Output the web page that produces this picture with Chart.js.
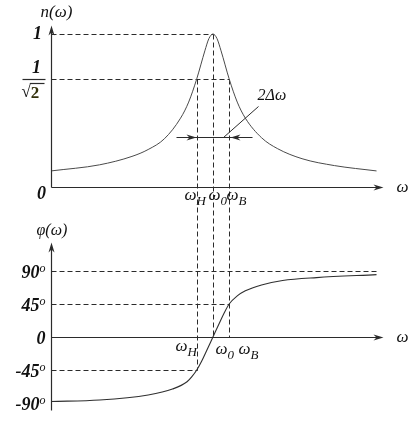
<!DOCTYPE html>
<html>
<head>
<meta charset="utf-8">
<script src="https://cdn.jsdelivr.net/npm/chart.js@4.4.0/dist/chart.umd.min.js"></script>
<style>
  html, body { margin: 0; padding: 0; background: #fff; }
  canvas { display: block; }
</style>
</head>
<body>
<canvas id="resChart" width="416" height="436"></canvas>
<script>
// ω in units of ω0
const omegaN = [0, 0.3, 0.5, 0.6, 0.7, 0.8, 0.85, 0.9, 0.95, 0.975, 1.0, 1.025, 1.05, 1.1, 1.15, 1.2, 1.3, 1.4, 1.55, 1.75, 2.01];
const nValues = [0.105, 0.145, 0.2, 0.245, 0.315, 0.45, 0.555, 0.707, 0.89, 0.97, 1.0, 0.97, 0.89, 0.707, 0.555, 0.45, 0.322, 0.25, 0.185, 0.14, 0.105];

const omegaPhi = [0, 0.3, 0.6, 0.75, 0.84, 0.87, 0.9, 0.93, 0.96, 1.0, 1.04, 1.07, 1.1, 1.15, 1.2, 1.3, 1.43, 1.64, 2.01];
const phiValues = [-88, -86, -79, -71, -61, -54, -45, -33, -19, 0, 19, 33, 45, 56, 63, 71, 77, 81, 85];

// marked frequencies ωH, ω0, ωB
const markFreqs = [0.9, 1.0, 1.1];
const markSubs = ["H", "0", "B"];
const nLevels = [1, 0.707];
const phiTicks = [90, 45, 0, -45, -90];
const phiTickLabels = ["90", "45", "0", "-45", "-90"];

const OMEGA_MAX = 2.05;
const FONT = '"Liberation Serif", "DejaVu Serif", serif';
const INK = "#2b2b2b";

function toPoints(xs, ys) {
    return xs.map((x, i) => ({ x: x, y: ys[i] }));
}

function arrowHead(ctx, x, y, dir) {
    ctx.beginPath();
    if (dir === "right") {
        ctx.moveTo(x, y);
        ctx.lineTo(x - 10, y - 3);
        ctx.lineTo(x - 7, y);
        ctx.lineTo(x - 10, y + 3);
    } else if (dir === "left") {
        ctx.moveTo(x, y);
        ctx.lineTo(x + 10, y - 3);
        ctx.lineTo(x + 7, y);
        ctx.lineTo(x + 10, y + 3);
    } else {
        ctx.moveTo(x, y);
        ctx.lineTo(x - 3, y + 10);
        ctx.lineTo(x, y + 7);
        ctx.lineTo(x + 3, y + 10);
    }
    ctx.closePath();
    ctx.fill();
}

function line(ctx, x1, y1, x2, y2) {
    ctx.beginPath();
    ctx.moveTo(x1, y1);
    ctx.lineTo(x2, y2);
    ctx.stroke();
}

function omegaLabel(ctx, x, y, sub, size) {
    ctx.textAlign = "left";
    ctx.textBaseline = "alphabetic";
    ctx.font = "italic " + size + "px " + FONT;
    ctx.fillText("ω", x, y);
    const w = ctx.measureText("ω").width;
    ctx.font = "italic " + Math.round(size * 0.75) + "px " + FONT;
    ctx.fillText(sub, x + w, y + 5);
}

const guidePlugin = {
    id: "guides",
    beforeDatasetsDraw(chart) {
        const ctx = chart.ctx;
        const s = chart.scales;
        const X = v => Math.round(s.x.getPixelForValue(v)) + 0.5;
        const YN = v => Math.round(s.yN.getPixelForValue(v)) + 0.5;
        const YP = v => Math.round(s.yP.getPixelForValue(v)) + 0.5;

        ctx.save();
        ctx.strokeStyle = INK;
        ctx.lineWidth = 1;
        ctx.setLineDash([5, 3]);

        // horizontal guides, top
        line(ctx, X(0), YN(nLevels[0]), X(markFreqs[1]), YN(nLevels[0]));
        line(ctx, X(0), YN(nLevels[1]), X(markFreqs[2]), YN(nLevels[1]));

        // horizontal guides, bottom
        line(ctx, X(0), YP(phiTicks[0]), X(omegaPhi[omegaPhi.length - 1]), YP(phiTicks[0]));
        line(ctx, X(0), YP(phiTicks[1]), X(markFreqs[2]), YP(phiTicks[1]));
        line(ctx, X(0), YP(phiTicks[3]), X(markFreqs[0]), YP(phiTicks[3]));

        // vertical guides through both plots
        line(ctx, X(markFreqs[0]), YN(nLevels[1]), X(markFreqs[0]), YP(phiTicks[3]));
        line(ctx, X(markFreqs[1]), YN(nLevels[0]), X(markFreqs[1]), YP(0));
        line(ctx, X(markFreqs[2]), YN(nLevels[1]), X(markFreqs[2]), YP(0));
        ctx.restore();
    },
    afterDatasetsDraw(chart) {
        const ctx = chart.ctx;
        const s = chart.scales;
        const X = v => Math.round(s.x.getPixelForValue(v)) + 0.5;
        const YN = v => Math.round(s.yN.getPixelForValue(v)) + 0.5;
        const YP = v => Math.round(s.yP.getPixelForValue(v)) + 0.5;
        const x0 = X(0);
        const xEnd = X(OMEGA_MAX);

        ctx.save();
        ctx.strokeStyle = INK;
        ctx.fillStyle = INK;
        ctx.lineWidth = 1.2;

        // top axes
        line(ctx, x0, YN(0), xEnd - 6, YN(0));
        arrowHead(ctx, xEnd, YN(0), "right");
        line(ctx, x0, YN(0), x0, YN(1.06) + 6);
        arrowHead(ctx, x0, YN(1.06), "up");

        // bottom axes
        line(ctx, x0, YP(0), xEnd - 6, YP(0));
        arrowHead(ctx, xEnd, YP(0), "right");
        line(ctx, x0, YP(-100), x0, YP(130) + 6);
        arrowHead(ctx, x0, YP(130), "up");

        // 2Δω width marker
        const yw = YN(0.327);
        ctx.lineWidth = 1;
        line(ctx, X(0.77), yw, X(1.24), yw);
        arrowHead(ctx, X(markFreqs[0]) - 1, yw, "right");
        arrowHead(ctx, X(markFreqs[2]) + 1, yw, "left");
        line(ctx, X(1.06), yw, X(1.28), YN(0.53));

        // texts
        ctx.fillStyle = "#111";
        ctx.textBaseline = "middle";

        ctx.font = "italic 17px " + FONT;
        ctx.textAlign = "left";
        ctx.fillText("n(ω)", x0 - 11, 13);

        ctx.font = "italic bold 18px " + FONT;
        ctx.textAlign = "center";
        ctx.fillText("1", x0 - 14, YN(1));
        ctx.fillText("1", x0 - 15, YN(nLevels[1]) - 11);
        ctx.lineWidth = 1.2;
        line(ctx, x0 - 29, YN(nLevels[1]), x0 - 6, YN(nLevels[1]));
        ctx.font = "bold 17px " + FONT;
        ctx.textAlign = "left";
        ctx.fillText("√", x0 - 30, YN(nLevels[1]) + 13);
        const rw = ctx.measureText("√").width;
        line(ctx, x0 - 30 + rw - 1, YN(nLevels[1]) + 4, x0 - 7, YN(nLevels[1]) + 4);
        ctx.fillStyle = "#33310c";
        ctx.fillText("2", x0 - 30 + rw, YN(nLevels[1]) + 14);
        ctx.fillStyle = "#111";
        ctx.font = "italic bold 18px " + FONT;
        ctx.textAlign = "center";
        ctx.fillText("0", x0 - 10, YN(0) + 7);

        ctx.font = "italic 17px " + FONT;
        ctx.textAlign = "left";
        ctx.fillText("ω", xEnd + 13, YN(0));
        ctx.fillText("ω", xEnd + 13, YP(0));

        ctx.font = "italic 16px " + FONT;
        ctx.fillText("2Δω", X(1.27), YN(0.6));

        // marks under the top axis
        omegaLabel(ctx, X(markFreqs[0]) - 13, YN(0) + 12, markSubs[0], 17);
        omegaLabel(ctx, X(markFreqs[1]) - 5, YN(0) + 12, markSubs[1], 17);
        omegaLabel(ctx, X(markFreqs[2]) - 3, YN(0) + 12, markSubs[2], 17);

        // marks under the bottom axis
        omegaLabel(ctx, X(markFreqs[0]) - 22, YP(0) + 13, markSubs[0], 17);
        omegaLabel(ctx, X(markFreqs[1]) + 2, YP(0) + 16, markSubs[1], 17);
        omegaLabel(ctx, X(markFreqs[2]) + 9, YP(0) + 16, markSubs[2], 17);

        // phase axis
        ctx.textBaseline = "middle";
        ctx.font = "italic 16px " + FONT;
        ctx.textAlign = "left";
        ctx.fillText("φ(ω)", x0 - 15, YP(130) - 12);

        phiTicks.forEach((t, i) => {
            const y = YP(t);
            ctx.font = "italic bold 18px " + FONT;
            ctx.textAlign = "right";
            if (t === 0) {
                ctx.fillText(phiTickLabels[i], x0 - 6, y + 2);
                return;
            }
            ctx.fillText(phiTickLabels[i], x0 - 12, y + 2);
            ctx.font = "italic 12px " + FONT;
            ctx.textAlign = "left";
            ctx.fillText("o", x0 - 12, y - 3);
        });

        ctx.restore();
    }
};

new Chart(document.getElementById("resChart"), {
    type: "line",
    data: {
        datasets: [
            {
                label: "n(ω)",
                data: toPoints(omegaN, nValues),
                yAxisID: "yN",
                borderColor: "#4a4a4a",
                borderWidth: 1,
                pointRadius: 0,
                cubicInterpolationMode: "monotone",
                fill: false
            },
            {
                label: "φ(ω)",
                data: toPoints(omegaPhi, phiValues),
                yAxisID: "yP",
                borderColor: "#2f2f2f",
                borderWidth: 1.1,
                pointRadius: 0,
                cubicInterpolationMode: "monotone",
                fill: false
            }
        ]
    },
    options: {
        responsive: false,
        animation: false,
        layout: { padding: { left: 51, right: 33, top: 20, bottom: 16 } },
        plugins: {
            legend: { display: false },
            tooltip: { enabled: false }
        },
        scales: {
            x: { type: "linear", min: 0, max: OMEGA_MAX, display: false },
            // n = 0 sits at y 187, n = 1 at y 34 inside a 20..420 plot area
            yN: { type: "linear", min: -1.5229, max: 1.0915, display: false },
            // φ = 0 sits at y 337, 90° at y 271
            yP: { type: "linear", min: -113.2, max: 432.3, display: false }
        }
    },
    plugins: [guidePlugin]
});
</script>
</body>
</html>
